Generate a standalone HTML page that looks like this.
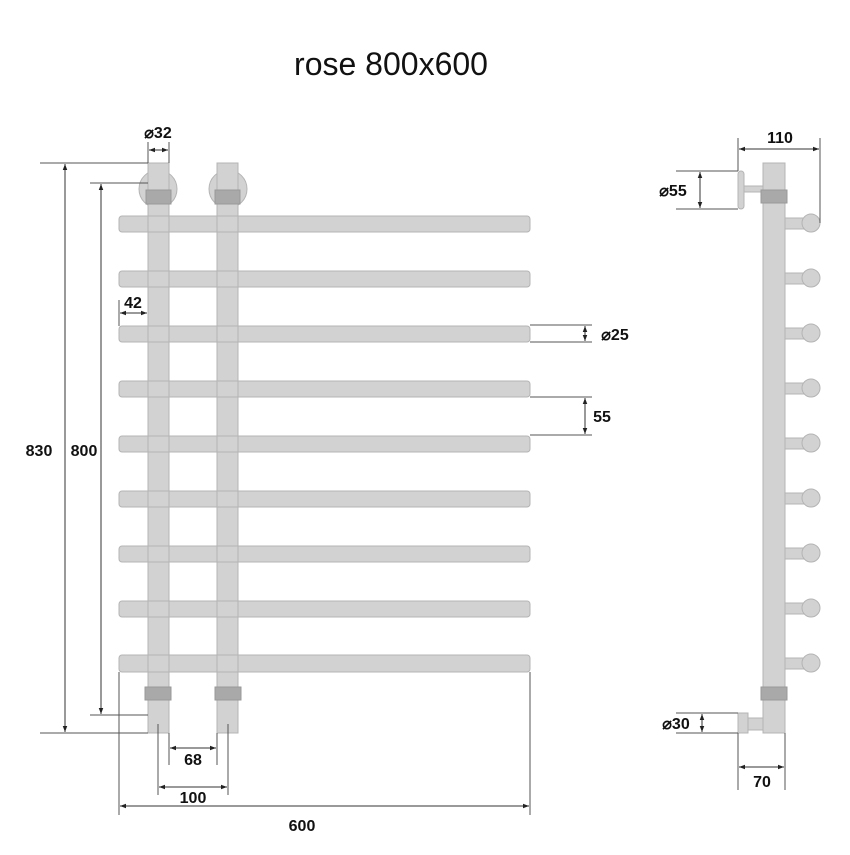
<!DOCTYPE html>
<html><head><style>
body{margin:0;background:#fff;}
svg text{font-family:"Liberation Sans",sans-serif;font-weight:bold;fill:#111;}
</style></head><body>
<svg width="850" height="850" viewBox="0 0 850 850" xmlns="http://www.w3.org/2000/svg">
<defs>
<marker id="a" viewBox="0 0 8 6" refX="8" refY="3" markerWidth="6" markerHeight="5" orient="auto-start-reverse"><path d="M0,0L8,3L0,6z" fill="#222"/></marker>
</defs>
<text x="391" y="75" font-size="32" text-anchor="middle" style="font-weight:normal">rose 800x600</text>

<g fill="#d2d2d2" stroke="#b4b4b4" stroke-width="1">
<circle cx="158" cy="189" r="19"/>
<circle cx="228" cy="189" r="19"/>
<rect x="148" y="163" width="21" height="570"/>
<rect x="217" y="163" width="21" height="570"/>
<rect x="119" y="216" width="411" height="16" rx="3"/>
<rect x="119" y="271" width="411" height="16" rx="3"/>
<rect x="119" y="326" width="411" height="16" rx="3"/>
<rect x="119" y="381" width="411" height="16" rx="3"/>
<rect x="119" y="436" width="411" height="16" rx="3"/>
<rect x="119" y="491" width="411" height="16" rx="3"/>
<rect x="119" y="546" width="411" height="16" rx="3"/>
<rect x="119" y="601" width="411" height="16" rx="3"/>
<rect x="119" y="655" width="411" height="17" rx="3"/>
</g>
<g fill="none" stroke="#b4b4b4">
<rect x="148" y="163" width="21" height="570"/>
<rect x="217" y="163" width="21" height="570"/>
</g>
<g fill="#a9a9a9" stroke="#999">
<rect x="146" y="190" width="25" height="14"/>
<rect x="215" y="190" width="25" height="14"/>
<rect x="145" y="687" width="26" height="13"/>
<rect x="215" y="687" width="26" height="13"/>
</g>

<g fill="#d2d2d2" stroke="#b4b4b4">
<rect x="743" y="186" width="20" height="6"/>
<rect x="738" y="171" width="6" height="38" rx="3"/>
<rect x="748" y="718" width="15" height="12"/>
<rect x="738" y="713" width="10" height="20"/>
<g>
<rect x="785" y="218" width="20" height="11"/><circle cx="811" cy="223" r="9"/>
<rect x="785" y="273" width="20" height="11"/><circle cx="811" cy="278" r="9"/>
<rect x="785" y="328" width="20" height="11"/><circle cx="811" cy="333" r="9"/>
<rect x="785" y="383" width="20" height="11"/><circle cx="811" cy="388" r="9"/>
<rect x="785" y="438" width="20" height="11"/><circle cx="811" cy="443" r="9"/>
<rect x="785" y="493" width="20" height="11"/><circle cx="811" cy="498" r="9"/>
<rect x="785" y="548" width="20" height="11"/><circle cx="811" cy="553" r="9"/>
<rect x="785" y="603" width="20" height="11"/><circle cx="811" cy="608" r="9"/>
<rect x="785" y="658" width="20" height="11"/><circle cx="811" cy="663" r="9"/>
</g>
<rect x="763" y="163" width="22" height="570"/>
</g>
<g fill="#a9a9a9" stroke="#999">
<rect x="761" y="190" width="26" height="13"/>
<rect x="761" y="687" width="26" height="13"/>
</g>

<g stroke="#555" stroke-width="1" fill="none">
<line x1="40" y1="163" x2="148" y2="163"/>
<line x1="90" y1="183" x2="148" y2="183"/>
<line x1="90" y1="715" x2="148" y2="715"/>
<line x1="40" y1="733" x2="148" y2="733"/>
<line x1="148" y1="142" x2="148" y2="163"/>
<line x1="169" y1="142" x2="169" y2="163"/>
<line x1="119" y1="300" x2="119" y2="326"/>
<line x1="530" y1="325" x2="592" y2="325"/>
<line x1="530" y1="342" x2="592" y2="342"/>
<line x1="530" y1="397" x2="592" y2="397"/>
<line x1="530" y1="435" x2="592" y2="435"/>
<line x1="169" y1="733" x2="169" y2="765"/>
<line x1="217" y1="733" x2="217" y2="765"/>
<line x1="158" y1="724" x2="158" y2="795"/>
<line x1="228" y1="724" x2="228" y2="795"/>
<line x1="119" y1="672" x2="119" y2="815"/>
<line x1="530" y1="672" x2="530" y2="815"/>
<line x1="738" y1="138" x2="738" y2="171"/>
<line x1="820" y1="138" x2="820" y2="223"/>
<line x1="676" y1="171" x2="738" y2="171"/>
<line x1="676" y1="209" x2="738" y2="209"/>
<line x1="676" y1="713" x2="738" y2="713"/>
<line x1="676" y1="733" x2="738" y2="733"/>
<line x1="738" y1="733" x2="738" y2="790"/>
<line x1="785" y1="733" x2="785" y2="790"/>
</g>
<g stroke="#333" stroke-width="1" marker-start="url(#a)" marker-end="url(#a)">
<line x1="65" y1="164" x2="65" y2="732"/>
<line x1="101" y1="184" x2="101" y2="714"/>
<line x1="149" y1="150" x2="168" y2="150"/>
<line x1="120" y1="313" x2="147" y2="313"/>
<line x1="585" y1="326" x2="585" y2="341"/>
<line x1="585" y1="398" x2="585" y2="434"/>
<line x1="170" y1="748" x2="216" y2="748"/>
<line x1="159" y1="787" x2="227" y2="787"/>
<line x1="120" y1="806" x2="529" y2="806"/>
<line x1="739" y1="149" x2="819" y2="149"/>
<line x1="700" y1="172" x2="700" y2="208"/>
<line x1="702" y1="714" x2="702" y2="732"/>
<line x1="739" y1="767" x2="784" y2="767"/>
</g>

<g font-size="16">
<text x="158" y="138" text-anchor="middle">⌀32</text>
<text x="133" y="308" text-anchor="middle">42</text>
<text x="615" y="340" text-anchor="middle">⌀25</text>
<text x="602" y="422" text-anchor="middle">55</text>
<text x="39" y="456" text-anchor="middle">830</text>
<text x="84" y="456" text-anchor="middle">800</text>
<text x="193" y="765" text-anchor="middle">68</text>
<text x="193" y="803" text-anchor="middle">100</text>
<text x="302" y="831" text-anchor="middle">600</text>
<text x="780" y="143" text-anchor="middle">110</text>
<text x="673" y="196" text-anchor="middle">⌀55</text>
<text x="676" y="729" text-anchor="middle">⌀30</text>
<text x="762" y="787" text-anchor="middle">70</text>
</g>
</svg>
</body></html>
